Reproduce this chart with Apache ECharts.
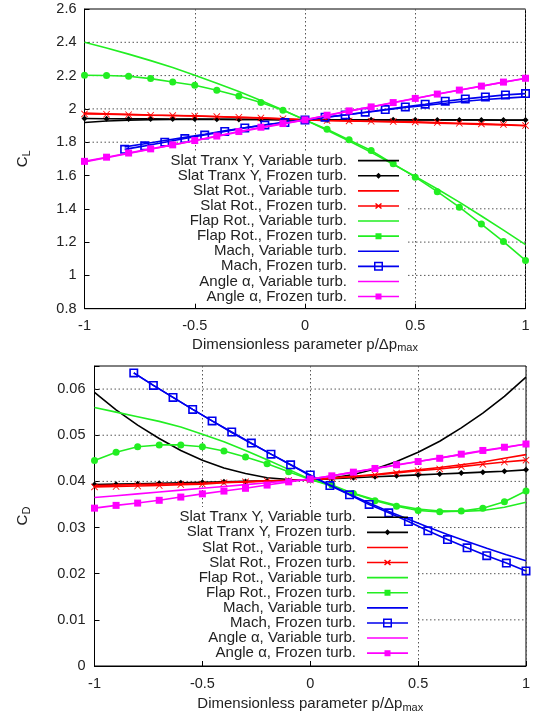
<!DOCTYPE html>
<html>
<head>
<meta charset="utf-8">
<script src="https://cdn.jsdelivr.net/npm/echarts/dist/echarts.min.js"></script>
<style>
html,body{margin:0;padding:0;background:#fff;}
#c{width:540px;height:717px;}
</style>
</head>
<body>
<div id="c"></div>
<script>
// x positions (dimensionless parameter)
const P = [-1,-0.9,-0.8,-0.7,-0.6,-0.5,-0.4,-0.3,-0.2,-0.1,0,0.1,0.2,0.3,0.4,0.5,0.6,0.7,0.8,0.9,1];
const PM = [-0.818,-0.727,-0.636,-0.545,-0.455,-0.364,-0.273,-0.182,-0.091,0,0.091,0.182,0.273,0.364,0.455,0.545,0.636,0.727,0.818,0.909,1];

// tick values for horizontal grid lines
const CL_TICKS = [1.0,1.2,1.4,1.6,1.8,2.0,2.2,2.4];
const CD_TICKS = [0.01,0.02,0.03,0.04,0.05,0.06];

// Lift coefficient C_L
const clSlatYVar   = [1.918,1.927,1.932,1.935,1.936,1.937,1.937,1.936,1.936,1.935,1.934,1.934,1.934,1.934,1.934,1.934,1.933,1.933,1.933,1.932,1.932];
const clSlatYFro   = [1.942,1.941,1.940,1.940,1.939,1.939,1.938,1.937,1.936,1.935,1.934,1.934,1.935,1.935,1.935,1.935,1.934,1.934,1.934,1.933,1.933];
const clSlatRotVar = [1.975,1.971,1.967,1.963,1.960,1.957,1.953,1.949,1.945,1.940,1.934,1.930,1.927,1.924,1.921,1.918,1.914,1.911,1.907,1.903,1.899];
const clSlatRotFro = [1.970,1.968,1.965,1.962,1.960,1.958,1.954,1.950,1.946,1.941,1.934,1.930,1.928,1.926,1.924,1.922,1.918,1.914,1.910,1.906,1.900];
const clFlapVar    = [2.400,2.366,2.329,2.290,2.248,2.202,2.154,2.104,2.050,1.994,1.934,1.872,1.807,1.739,1.668,1.595,1.519,1.440,1.357,1.272,1.185];
const clFlapFro    = [2.202,2.201,2.196,2.182,2.162,2.142,2.112,2.078,2.038,1.992,1.934,1.878,1.814,1.750,1.670,1.590,1.503,1.410,1.308,1.203,1.090];
const clMachVar    = [1.772,1.791,1.810,1.829,1.848,1.868,1.887,1.905,1.920,1.934,1.949,1.963,1.978,1.993,2.008,2.021,2.034,2.046,2.056,2.065,2.072];
const clMachFro    = [1.757,1.778,1.800,1.822,1.843,1.865,1.886,1.903,1.918,1.934,1.950,1.964,1.980,1.996,2.012,2.028,2.046,2.060,2.072,2.084,2.092];
const clAngleVar   = [1.682,1.707,1.733,1.758,1.783,1.809,1.835,1.861,1.886,1.910,1.934,1.960,1.986,2.011,2.037,2.062,2.088,2.112,2.136,2.160,2.183];
const clAngleFro   = [1.685,1.710,1.735,1.760,1.784,1.810,1.837,1.864,1.890,1.912,1.934,1.962,1.988,2.012,2.038,2.063,2.089,2.113,2.137,2.161,2.184];

// Drag coefficient C_D
const cdSlatYVar   = [0.0593,0.0555,0.0522,0.0493,0.0467,0.0446,0.0429,0.0417,0.0408,0.0404,0.0403,0.0407,0.0415,0.0427,0.0443,0.0463,0.0487,0.0516,0.0548,0.0584,0.0626];
const cdSlatYFro   = [0.0393,0.0394,0.0395,0.0396,0.0397,0.0398,0.0399,0.0400,0.0401,0.0402,0.0403,0.0406,0.0408,0.0410,0.0412,0.0414,0.0416,0.0418,0.0420,0.0422,0.0425];
const cdSlatRotVar = [0.0391,0.0392,0.0393,0.0394,0.0395,0.0396,0.0398,0.0399,0.0401,0.0402,0.0403,0.0407,0.0411,0.0415,0.0420,0.0425,0.0430,0.0436,0.0442,0.0450,0.0458];
const cdSlatRotFro = [0.0388,0.0389,0.0390,0.0391,0.0393,0.0394,0.0397,0.0399,0.0401,0.0402,0.0403,0.0407,0.0410,0.0414,0.0418,0.0423,0.0427,0.0432,0.0437,0.0442,0.0446];
const cdFlapVar    = [0.0560,0.0550,0.0540,0.0530,0.0518,0.0502,0.0486,0.0467,0.0447,0.0426,0.0404,0.0390,0.0374,0.0360,0.0348,0.0340,0.0336,0.0335,0.0337,0.0344,0.0355];
const cdFlapFro    = [0.0445,0.0463,0.0475,0.0479,0.0479,0.0475,0.0466,0.0453,0.0438,0.0421,0.0404,0.0392,0.0374,0.0358,0.0346,0.0337,0.0334,0.0336,0.0342,0.0356,0.0379];
const cdMachVar    = [0.0635,0.0608,0.0582,0.0556,0.0531,0.0506,0.0482,0.0459,0.0436,0.0412,0.0392,0.0372,0.0353,0.0335,0.0318,0.0301,0.0285,0.0270,0.0255,0.0241,0.0228];
const cdMachFro    = [0.0635,0.0608,0.0582,0.0556,0.0531,0.0507,0.0483,0.0459,0.0436,0.0414,0.0391,0.0371,0.0350,0.0332,0.0313,0.0293,0.0274,0.0256,0.0239,0.0223,0.0206];
const cdAngleVar   = [0.0365,0.0369,0.0373,0.0377,0.0381,0.0385,0.0389,0.0393,0.0397,0.0401,0.0405,0.0412,0.0420,0.0428,0.0435,0.0443,0.0451,0.0458,0.0466,0.0473,0.0481];
const cdAngleFro   = [0.0342,0.0348,0.0353,0.0359,0.0366,0.0373,0.0379,0.0385,0.0392,0.0399,0.0405,0.0412,0.0420,0.0428,0.0436,0.0443,0.0450,0.0459,0.0467,0.0474,0.0481];

const NAMES = [
  'Slat Tranx Y, Variable turb.', 'Slat Tranx Y, Frozen turb.',
  'Slat Rot., Variable turb.', 'Slat Rot., Frozen turb.',
  'Flap Rot., Variable turb.', 'Flap Rot., Frozen turb.',
  'Mach, Variable turb.', 'Mach, Frozen turb.',
  'Angle α, Variable turb.', 'Angle α, Frozen turb.'
];
const COLORS = ['#000000','#000000','#ff0000','#ff0000','#22ee22','#22ee22','#0000ee','#0000ee','#ff00ff','#ff00ff'];
const XS = [P,P,P,P,P,P,PM,PM,P,P];
const CL = [clSlatYVar,clSlatYFro,clSlatRotVar,clSlatRotFro,clFlapVar,clFlapFro,clMachVar,clMachFro,clAngleVar,clAngleFro];
const CD = [cdSlatYVar,cdSlatYFro,cdSlatRotVar,cdSlatRotFro,cdFlapVar,cdFlapFro,cdMachVar,cdMachFro,cdAngleVar,cdAngleFro];

const XSYM = 'path://M1,0L6,5L11,0L12,1L7,6L12,11L11,12L6,7L1,12L0,11L5,6L0,1Z';
const HSQ = 'path://M0,0H10V10H0Z M1.8,1.8V8.2H8.2V1.8Z';
const SYMS = ['none', ['diamond',6], 'none', [XSYM,7], 'none', ['circle',7], 'none', [HSQ,9], 'none', ['rect',7]];

// legend icons (41 x 10 box)
const BOX = 'M0,0L0.01,0L0,0.01Z M41,10L40.99,10L41,9.99Z ';
const LINE = 'M0,4.2H41V5.8H0Z ';
const ICONS = [
  'path://' + BOX + LINE,
  'path://' + BOX + LINE + 'M20.5,2L23.5,5L20.5,8L17.5,5Z',
  'path://' + BOX + LINE,
  'path://' + BOX + LINE + 'M18,2L24,7L23,8L17,3Z M17,7L23,2L24,3L18,8Z',
  'path://' + BOX + LINE,
  'path://' + BOX + LINE + 'M17.5,2H23.5V8H17.5Z',
  'path://' + BOX + LINE,
  'path://' + BOX + LINE + 'M16,0.5H25V9.5H16Z M17.5,2V8H23.5V2Z',
  'path://' + BOX + LINE,
  'path://' + BOX + LINE + 'M17.5,2H23.5V8H17.5Z'
];

const FONT = 'Liberation Sans';
const TXT = '#222';
// opaque key boxes (x1, y1, x2, y2) for each panel
const KEYBOX = [[91, 152, 408, 303], [101, 507, 418, 660]];

function makeSeries(values, gi) {
  return NAMES.map((n, i) => {
    const s = SYMS[i];
    const data = XS[i].map((x, k) => [x, values[i][k]]);
    const o = {
      name: n, type: 'line', xAxisIndex: gi, yAxisIndex: gi, data: data,
      lineStyle: { color: COLORS[i], width: 1.6 },
      itemStyle: { color: COLORS[i] },
      z: 2 + i * 0.01,
      animation: false
    };
    if (s === 'none') { o.symbol = 'none'; o.showSymbol = false; }
    else { o.symbol = s[0]; o.symbolSize = s[1]; o.showSymbol = true; }
    return o;
  });
}

function legend(right, top) {
  return {
    orient: 'vertical', align: 'right', right: right, top: top, padding: 0,
    itemWidth: 41, itemHeight: 10, itemGap: 0, selectedMode: false,
    itemStyle: { borderWidth: 0 },
    textStyle: { fontFamily: FONT, fontSize: 15, color: TXT, lineHeight: 15.1, padding: [0, 6, 0, 0] },
    data: NAMES.map((n, i) => ({ name: n, icon: ICONS[i] }))
  };
}

function xAxis(gi, gap) {
  return {
    gridIndex: gi, type: 'value', min: -1, max: 1, interval: 0.5,
    axisLine: { show: true, onZero: false, lineStyle: { color: '#000', width: 1 } },
    axisTick: { show: true, inside: true, length: 5, lineStyle: { color: '#000' } },
    splitLine: { show: true, lineStyle: { type: [1.5, 2.5], color: '#555', width: 1 } },
    axisLabel: { fontFamily: FONT, fontSize: 14.5, color: TXT, margin: 10 },
    name: 'Dimensionless parameter p/Δp{s|max}', nameLocation: 'middle', nameGap: gap,
    nameTextStyle: { fontFamily: FONT, fontSize: 15, color: TXT, lineHeight: 18,
      rich: { s: { fontFamily: FONT, fontSize: 11, color: TXT, lineHeight: 11, verticalAlign: 'bottom' } } }
  };
}

const YNAME_RICH = { c: { fontFamily: FONT, fontSize: 15, color: TXT, lineHeight: 20 },
                     s: { fontFamily: FONT, fontSize: 11, color: TXT, lineHeight: 11, verticalAlign: 'bottom' } };

const option = {
  animation: false,
  backgroundColor: '#fff',
  grid: [
    { left: 84.5, top: 9, width: 441, height: 299.7, show: true, borderColor: '#000', borderWidth: 1, backgroundColor: 'transparent' },
    { left: 94.5, top: 366, width: 431.5, height: 300, show: true, borderColor: '#000', borderWidth: 1, backgroundColor: 'transparent' }
  ],
  xAxis: [xAxis(0, 27), xAxis(1, 29)],
  yAxis: [
    { gridIndex: 0, type: 'value', position: 'left', min: 0.8, max: 2.6, interval: 0.2,
      axisLine: { show: true, onZero: false, lineStyle: { color: '#000', width: 1 } },
      axisTick: { show: true, inside: true, length: 5, lineStyle: { color: '#000' } },
      splitLine: { show: false },
      axisLabel: { fontFamily: FONT, fontSize: 14.5, color: TXT, margin: 8, formatter: v => String(+v.toFixed(2)) },
      name: '{c|C}{s|L}', nameGap: 52, nameLocation: 'middle', nameRotate: 90,
      nameTextStyle: { rich: YNAME_RICH } },
    { gridIndex: 1, type: 'value', position: 'left', min: 0, max: 0.065, interval: 0.01,
      axisLine: { show: true, onZero: false, lineStyle: { color: '#000', width: 1 } },
      axisTick: { show: true, inside: true, length: 5, lineStyle: { color: '#000' } },
      splitLine: { show: false },
      axisLabel: { fontFamily: FONT, fontSize: 14.5, color: TXT, margin: 9, formatter: v => (v > 0.0605 ? '' : String(+v.toFixed(3))) },
      name: '{c|C}{s|D}', nameGap: 62, nameLocation: 'middle', nameRotate: 90,
      nameTextStyle: { rich: YNAME_RICH } }
  ],
  legend: [legend(141, 153.1), legend(132, 509.7)],
  graphic: KEYBOX.map(k => ({ type: 'rect', silent: true, z: 1,
    shape: { x: k[0], y: k[1], width: k[2] - k[0], height: k[3] - k[1] }, style: { fill: '#fff' } })),
  series: makeSeries(CL, 0).concat(makeSeries(CD, 1))
};

const chart = echarts.init(document.getElementById('c'), null, { renderer: 'canvas' });
chart.setOption(option);

// horizontal dotted grid lines: plain line series through the axis scales,
// starting right of the opaque key box where they pass behind it
const gridSeries = [];
[[CL_TICKS, 0], [CD_TICKS, 1]].forEach(([ticks, gi]) => {
  const kb = KEYBOX[gi];
  const xRight = chart.convertFromPixel({ xAxisIndex: gi }, kb[2]);
  ticks.forEach(v => {
    const py = chart.convertToPixel({ yAxisIndex: gi }, v);
    const x0 = (py > kb[1] && py < kb[3]) ? xRight : -1;
    gridSeries.push({
      type: 'line', xAxisIndex: gi, yAxisIndex: gi, z: 1.95, silent: true,
      symbol: 'none', showSymbol: false, animation: false,
      emphasis: { disabled: true },
      lineStyle: { type: [1.5, 2.5], color: '#555', width: 1 },
      data: [[x0, v], [1, v]]
    });
  });
});
chart.setOption({ series: option.series.concat(gridSeries) });
</script>
</body>
</html>
